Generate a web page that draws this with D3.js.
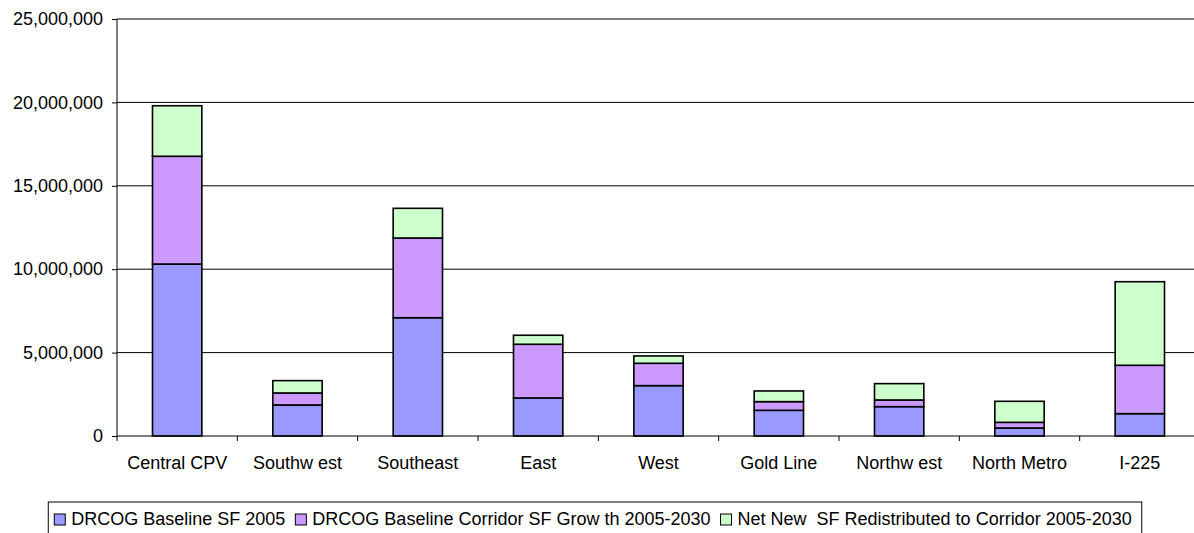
<!DOCTYPE html>
<html>
<head>
<meta charset="utf-8">
<script src="https://cdn.jsdelivr.net/npm/d3@7"></script>
<style>
  html, body { margin: 0; padding: 0; background: #fff; }
  svg { display: block; font-family: "Liberation Sans", Arial, sans-serif; }
  .legend-label { white-space: pre; }
</style>
</head>
<body>
<svg id="chart" width="1194" height="533"></svg>
<script>
// Corridors along the horizontal axis
const categories = ["Central CPV", "Southwest", "Southeast", "East", "West",
                    "Gold Line", "Northwest", "North Metro", "I-225"];
// Axis labels as printed (Southwest / Northwest carry the spaced "w est")
const categoryLabels = ["Central CPV", "Southw est", "Southeast", "East", "West",
                        "Gold Line", "Northw est", "North Metro", "I-225"];

// Stacked series, square feet
const baseline2005   = [10310000, 1860000, 7090000, 2280000, 3020000, 1540000, 1760000, 480000, 1340000];
const corridorGrowth = [ 6460000,  720000, 4780000, 3220000, 1340000,  520000,  400000, 340000, 2900000];
const netNewRedist   = [ 3030000,  740000, 1780000,  540000,  440000,  640000,  980000, 1260000, 5010000];

const seriesNames = ["DRCOG Baseline SF 2005",
                     "DRCOG Baseline Corridor SF Grow th 2005-2030",
                     "Net New  SF Redistributed to Corridor 2005-2030"];
const seriesColors = ["#9999ff", "#cc99ff", "#ccffcc"];
const yTicks = [0, 5000000, 10000000, 15000000, 20000000, 25000000];

const svg = d3.select("#chart");
const plot = { left: 117, right: 1200, top: 19, bottom: 436 };
const fontSize = 18;

const x = d3.scaleBand().domain(categories).range([plot.left, plot.right]).padding(0);
const y = d3.scaleLinear().domain([0, 25000000]).range([plot.bottom, plot.top]);
const barW = x.bandwidth() * 0.41;

// Gridlines
svg.append("g").selectAll("line").data(yTicks.filter(d => d > 0)).join("line")
  .attr("x1", plot.left).attr("x2", plot.right)
  .attr("y1", d => y(d)).attr("y2", d => y(d))
  .attr("stroke", "#000").attr("stroke-width", 1);

// Stacked bars
const rows = categories.map((c, i) => ({
  cat: c, s0: baseline2005[i], s1: corridorGrowth[i], s2: netNewRedist[i]
}));
const stack = d3.stack().keys(["s0", "s1", "s2"])(rows);

svg.append("g").selectAll("g").data(stack).join("g")
  .attr("fill", (d, i) => seriesColors[i])
  .selectAll("rect").data(d => d).join("rect")
  .attr("x", d => x(d.data.cat) + (x.bandwidth() - barW) / 2)
  .attr("width", barW)
  .attr("y", d => y(d[1]))
  .attr("height", d => y(d[0]) - y(d[1]))
  .attr("stroke", "#000").attr("stroke-width", 1.6);

// Y axis
const yAxis = d3.axisLeft(y).tickValues(yTicks).tickSize(5).tickPadding(9)
  .tickFormat(d3.format(","));
const gy = svg.append("g").attr("transform", `translate(${plot.left},0)`).call(yAxis);
gy.select(".domain").attr("stroke", "#000").attr("d", `M0,${plot.top}V${plot.bottom}`);
gy.selectAll(".tick line").attr("stroke", "#000");
gy.selectAll(".tick text").attr("font-size", fontSize).attr("fill", "#000")
  .attr("font-family", "Liberation Sans, Arial, sans-serif").attr("dy", "0.32em");

// X axis: ticks on category boundaries
const xAxis = d3.axisBottom(x).tickSize(0).tickPadding(0).tickFormat((d, i) => categoryLabels[i]);
const gx = svg.append("g").attr("transform", `translate(0,${plot.bottom})`).call(xAxis);
gx.select(".domain").attr("stroke", "#000").attr("d", `M${plot.left},0H${plot.right}`);
gx.selectAll(".tick text").attr("font-size", fontSize).attr("fill", "#000")
  .attr("font-family", "Liberation Sans, Arial, sans-serif")
  .attr("y", 33).attr("dy", 0);
const bounds = d3.range(categories.length + 1).map(i => plot.left + i * x.step());
svg.append("g").selectAll("line").data(bounds).join("line")
  .attr("x1", d => d).attr("x2", d => d)
  .attr("y1", plot.bottom).attr("y2", plot.bottom + 5)
  .attr("stroke", "#000");

// Legend
const legend = svg.append("g");
const legendBox = legend.append("rect").attr("fill", "#fff").attr("stroke", "#000").attr("stroke-width", 1);
const items = legend.selectAll("g").data(seriesNames).join("g");
items.append("rect").attr("width", 11).attr("height", 11)
  .attr("fill", (d, i) => seriesColors[i]).attr("stroke", "#000").attr("stroke-width", 1);
items.append("text").attr("class", "legend-label").text(d => d)
  .attr("font-size", fontSize).attr("fill", "#000")
  .attr("x", 17).attr("y", 11);
const widths = [];
items.select("text").each(function () { widths.push(this.getComputedTextLength()); });
const itemW = widths.map(w => 17 + w + 10);
const totalW = d3.sum(itemW);
const startX = 598 - totalW / 2;
let cx = startX;
const legendY = 514;
items.attr("transform", (d, i) => {
  const t = `translate(${cx},${legendY})`;
  cx += itemW[i];
  return t;
});
legendBox.attr("x", startX - 6).attr("y", 502)
  .attr("width", totalW + 6).attr("height", 36);
</script>
</body>
</html>
